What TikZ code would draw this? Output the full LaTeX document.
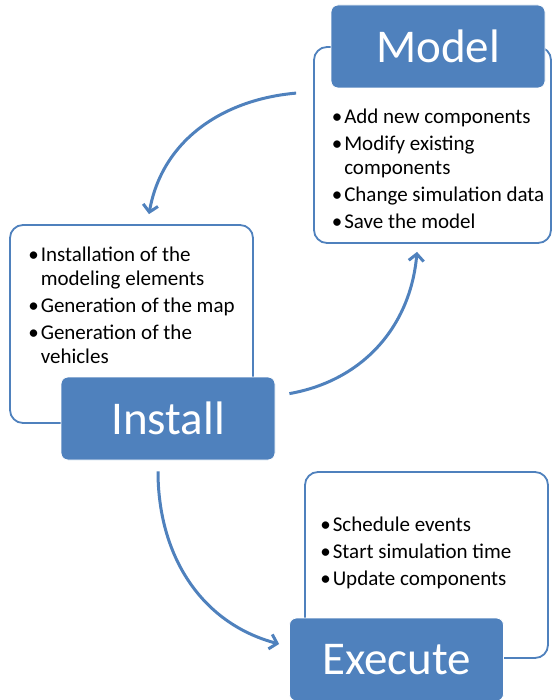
\documentclass[tikz,border=0pt]{standalone}
\usepackage{fontspec}
\setmainfont{Carlito}
\usetikzlibrary{positioning,arrows.meta}
\definecolor{stepblue}{RGB}{79,129,189}

\begin{document}
\begin{tikzpicture}[x=1pt,y=1pt,
    panel/.style={draw=stepblue,line width=1.8pt,fill=white,rounded corners=13pt},
    headbox/.style={fill=stepblue,draw=white,line width=0.8pt,rounded corners=7pt,
      minimum width=214pt,minimum height=83pt,text=white,font=\fontsize{47}{50}\selectfont},
    bullets/.style={inner sep=0pt,align=left,font=\fontsize{21}{24}\selectfont},
    flow/.style={stepblue,line width=3pt,-{Straight Barb[length=7pt,width=15pt]}}]
 \useasboundingbox (0,0) rectangle (553,-700);
 % white panels
 \node[panel,minimum width=237pt,minimum height=196pt] (mbox) at (432.5,-145) {};
 \node[panel,minimum width=243pt,minimum height=198pt] (ibox) at (131.5,-324) {};
 \node[panel,minimum width=243pt,minimum height=186pt] (ebox) at (426.5,-565) {};
 % headings
 \node[headbox] (mhead) at (438,-46.5) {Model};
 \node[headbox] (ihead) at (168,-418.5) {Install};
 \node[headbox] (ehead) at (396.5,-659.5) {Execute};
 % bullet lists
 \node[bullets,below right=18pt and 1pt of mhead.south west] (mtext)
  {\begin{tabular}{@{}l@{\hspace{2pt}}l@{}}
   \textbullet & Add new components\\[3pt]
   \textbullet & Modify existing\\
               & components\\[3pt]
   \textbullet & Change simulation data\\[3pt]
   \textbullet & Save the model
  \end{tabular}};
 \node[bullets,below right=20pt and 19pt of ibox.north west] (itext)
  {\begin{tabular}{@{}l@{\hspace{2pt}}l@{}}
   \textbullet & Installation of the\\
               & modeling elements\\[3pt]
   \textbullet & Generation of the map\\[3pt]
   \textbullet & Generation of the\\
               & vehicles
  \end{tabular}};
 \node[bullets,below right=43pt and 16pt of ebox.north west] (etext)
  {\begin{tabular}{@{}l@{\hspace{2pt}}l@{}}
   \textbullet & Schedule events\\[3pt]
   \textbullet & Start simulation time\\[3pt]
   \textbullet & Update components
  \end{tabular}};
 % cycle
 \draw[flow] ([shift={(-17,-47)}]mbox.north west) to[out=185,in=80] ([shift={(17.5,10)}]ibox.north);
 \draw[flow] ([shift={(14,-17)}]ihead.north east) to[out=10,in=-95] ([shift={(-15.5,-8)}]mbox.south);
 \draw[flow] ([shift={(-10,-11)}]ihead.south) to[out=-90,in=165] ([shift={(-10,15.5)}]ehead.west);
\end{tikzpicture}
\end{document}
